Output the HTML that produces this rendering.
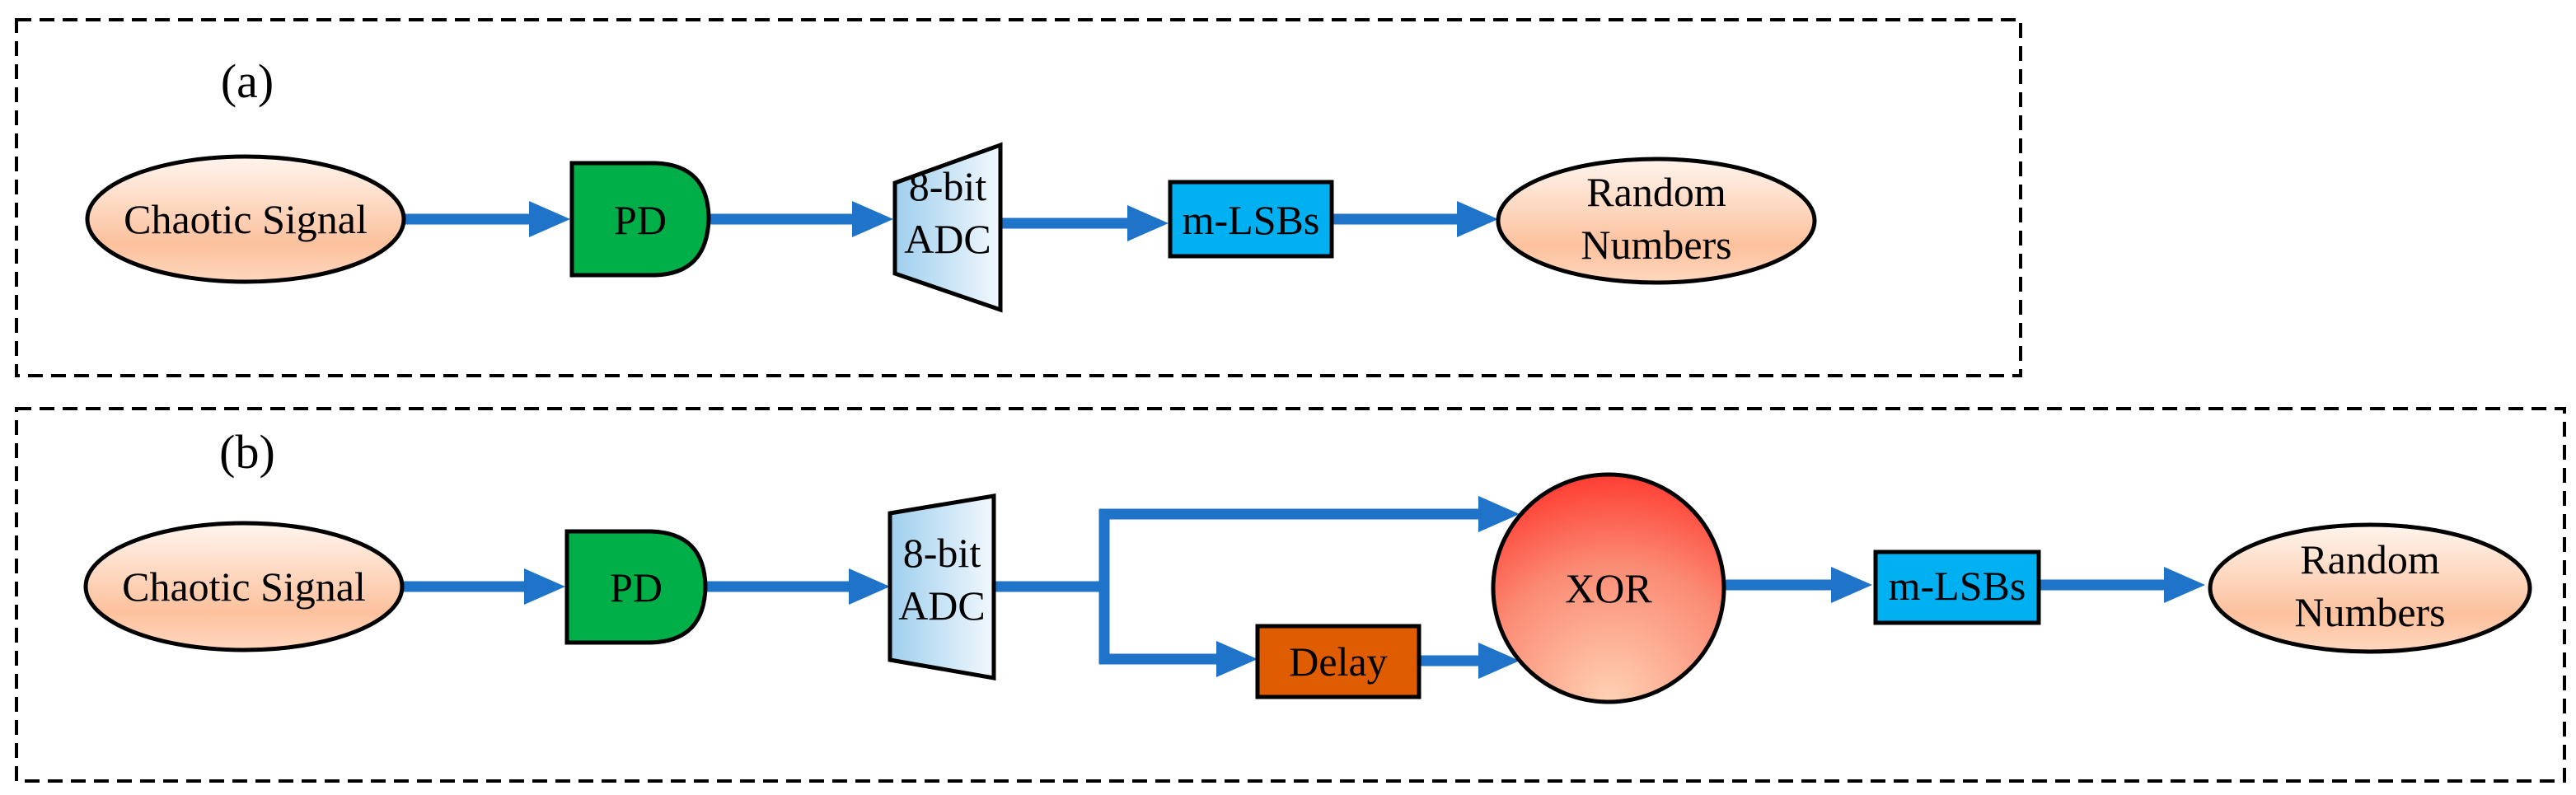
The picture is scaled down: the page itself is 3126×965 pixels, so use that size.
<!DOCTYPE html>
<html><head><meta charset="utf-8"><style>html,body{margin:0;padding:0;background:#fff}svg{display:block}</style></head>
<body>
<svg width="3126" height="965" viewBox="0 0 3126 965" xmlns="http://www.w3.org/2000/svg" font-family="Liberation Serif, serif">
<defs>
<linearGradient id="peach" x1="0" y1="0" x2="0" y2="1">
<stop offset="0" stop-color="#fff5ee"/><stop offset="0.7" stop-color="#fcc19d"/><stop offset="1" stop-color="#ffd7bf"/></linearGradient>
<linearGradient id="adc" x1="0" y1="0" x2="1" y2="0">
<stop offset="0" stop-color="#9fcfee"/><stop offset="1" stop-color="#f2f8fd"/></linearGradient>
<radialGradient id="xor" cx="0.55" cy="0.95" r="1.05" fx="0.5" fy="1">
<stop offset="0" stop-color="#ffd2b4"/><stop offset="0.55" stop-color="#fb8b74"/><stop offset="1" stop-color="#ff2a22"/></radialGradient>
</defs>
<g fill="none" stroke="#000" stroke-width="4" stroke-dasharray="18,10">
<rect x="20" y="24" width="2432" height="432"/>
<rect x="20" y="496" width="3092" height="452"/>
</g>
<text x="300" y="118" font-size="58" text-anchor="middle">(a)</text>
<text x="300" y="568" font-size="58" text-anchor="middle">(b)</text>
<g stroke="#1f73c8" stroke-width="13" fill="none">
<line x1="490" y1="266" x2="650" y2="266"/>
<line x1="862" y1="266" x2="1040" y2="266"/>
<line x1="1214" y1="271" x2="1375" y2="271"/>
<line x1="1618" y1="266" x2="1775" y2="266"/>
<line x1="490" y1="712" x2="645" y2="712"/>
<line x1="858" y1="712" x2="1035" y2="712"/>
<polyline points="1208,712 1340,712"/>
<polyline points="1340,618 1340,806"/>
<line x1="1334" y1="624" x2="1800" y2="624"/>
<line x1="1334" y1="800" x2="1485" y2="800"/>
<line x1="1722" y1="802" x2="1800" y2="802"/>
<line x1="2092" y1="710" x2="2230" y2="710"/>
<line x1="2476" y1="710" x2="2635" y2="710"/>
</g>
<g fill="#1f73c8">
<polygon points="642,244 692,266 642,288"/>
<polygon points="1034,244 1084,266 1034,288"/>
<polygon points="1368,249 1418,271 1368,293"/>
<polygon points="1768,244 1818,266 1768,288"/>
<polygon points="636,690 686,712 636,734"/>
<polygon points="1030,690 1080,712 1030,734"/>
<polygon points="1794,602 1844,624 1794,646"/>
<polygon points="1476,778 1526,800 1476,822"/>
<polygon points="1794,780 1844,802 1794,824"/>
<polygon points="2222,688 2272,710 2222,732"/>
<polygon points="2626,688 2676,710 2626,732"/>
</g>
<g stroke="#000" stroke-width="5">
<ellipse cx="298" cy="266" rx="192" ry="76" fill="url(#peach)"/>
<ellipse cx="2010" cy="268" rx="192" ry="75" fill="url(#peach)"/>
<ellipse cx="296" cy="712" rx="192" ry="77" fill="url(#peach)"/>
<ellipse cx="2876" cy="714" rx="194" ry="77" fill="url(#peach)"/>
<path d="M694,198 L795,198 Q860,200 860,266 Q858,332 795,334 L694,334 Z" fill="#00af48"/>
<path d="M688,645 L790,645 Q855,647 856,712 Q855,778 790,780 L688,780 Z" fill="#00af48"/>
<path d="M1086,222 L1214,176 L1214,376 L1086,332 Z" fill="url(#adc)"/>
<path d="M1080,623 L1206,602 L1206,823 L1080,801 Z" fill="url(#adc)"/>
<rect x="1420" y="221" width="196" height="90" fill="#00b0f0"/>
<rect x="2276" y="670" width="198" height="86" fill="#00b0f0"/>
<rect x="1526" y="760" width="196" height="86" fill="#e05c00"/>
<ellipse cx="1952" cy="714" rx="140" ry="138" fill="url(#xor)"/>
</g>
<g font-size="50" text-anchor="middle" fill="#000">
<text x="298" y="283">Chaotic Signal</text>
<text x="296" y="729">Chaotic Signal</text>
<text x="777" y="284">PD</text>
<text x="772" y="730">PD</text>
<text x="1150" y="243">8-bit</text>
<text x="1150" y="307">ADC</text>
<text x="1143" y="688">8-bit</text>
<text x="1143" y="752">ADC</text>
<text x="1518" y="284">m-LSBs</text>
<text x="2375" y="728">m-LSBs</text>
<text x="1624" y="820">Delay</text>
<text x="1952" y="731">XOR</text>
<text x="2010" y="250">Random</text>
<text x="2010" y="314">Numbers</text>
<text x="2876" y="696">Random</text>
<text x="2876" y="760">Numbers</text>
</g>
</svg>
</body></html>
